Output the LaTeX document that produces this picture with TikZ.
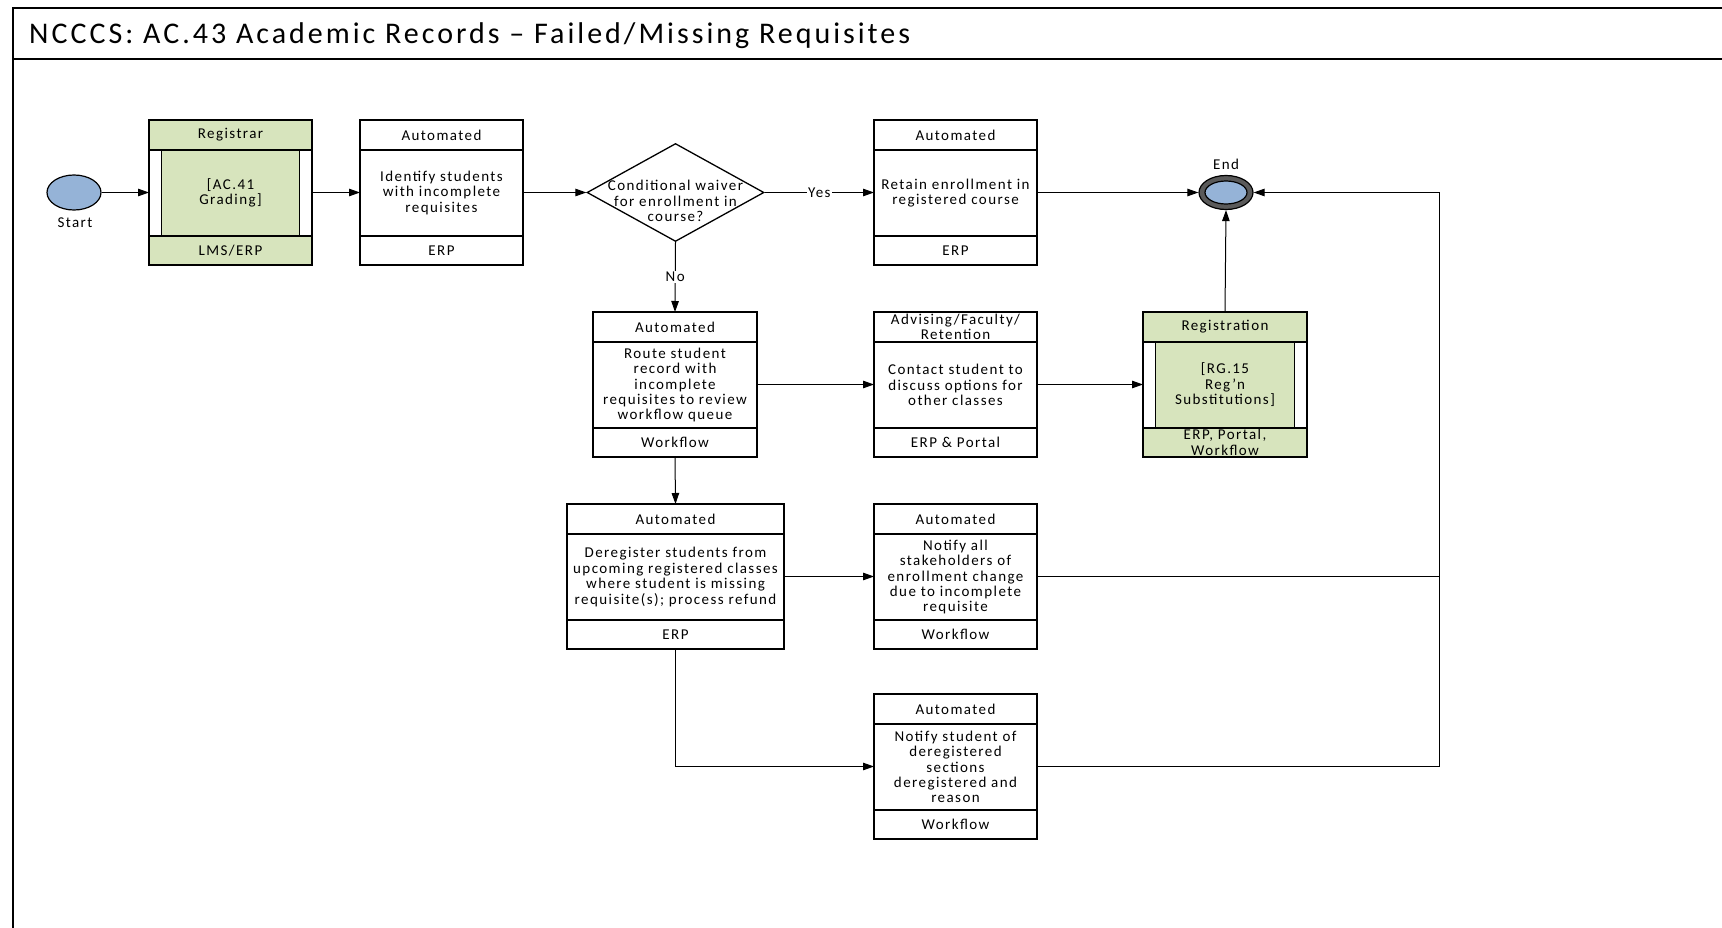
\documentclass[tikz,border=0pt]{standalone}
\usepackage{fontspec}
\setmainfont{Carlito}
\newfontfamily\bodyfont[LetterSpace=9.5]{Carlito}
\newfontfamily\titlefont[LetterSpace=10]{Carlito}
\usetikzlibrary{arrows.meta,shapes.geometric}

\definecolor{taskgreen}{HTML}{D7E4BD}
\definecolor{eventblue}{HTML}{95B3D7}
\definecolor{ringgray}{HTML}{5A5A5A}

\tikzset{
  boxline/.style={draw=black, line width=1.3pt},
  taskframe/.style={rectangle, draw=black, line width=1.3pt, inner sep=0pt, outer sep=0pt, anchor=north west},
  lbl/.style={font={\bodyfont\fontsize{15pt}{15.4pt}\selectfont}, align=center, inner sep=0pt, text=black},
  cond/.style={lbl, fill=white, inner sep=1.5pt},
  flow/.style={draw=black, line width=1pt, -{Triangle[length=11pt,width=7.5pt]}},
  plain/.style={draw=black, line width=1pt},
  frameline/.style={draw=black, line width=1.5pt}
}

% task box: name, left, top, width, header, body, footer, fill colour
\newcommand\taskbox[8]{%
  \node[taskframe, fill=#8, minimum width=#4pt, minimum height=145pt] (#1) at (#2,#3) {};
  \draw[boxline] ([yshift=-30pt]#1.north west) -- ([yshift=-30pt]#1.north east);
  \draw[boxline] ([yshift=29pt]#1.south west) -- ([yshift=29pt]#1.south east);
  \node[lbl] (#1-head) at ([yshift=-15pt]#1.north) {#5};
  \node[lbl] (#1-body) at ([yshift=-0.5pt]#1.center) {#6};
  \node[lbl] (#1-foot) at ([yshift=14.5pt]#1.south) {#7};
}

% side bars of a call-activity box
\newcommand\substrips[1]{%
  \fill[white] ([xshift=1pt,yshift=-30.7pt]#1.north west) rectangle ([xshift=12.5pt,yshift=29.7pt]#1.south west);
  \fill[white] ([xshift=-1pt,yshift=-30.7pt]#1.north east) rectangle ([xshift=-12.5pt,yshift=29.7pt]#1.south east);
  \draw[boxline] ([xshift=12.5pt,yshift=-30pt]#1.north west) -- ([xshift=12.5pt,yshift=29pt]#1.south west);
  \draw[boxline] ([xshift=-12.5pt,yshift=-30pt]#1.north east) -- ([xshift=-12.5pt,yshift=29pt]#1.south east);
}

\begin{document}
\begin{tikzpicture}[x=1pt,y=-1pt]
\useasboundingbox (0,0) rectangle (1722,928);

% page frame and title band
\draw[frameline] (13,928) -- (13,8) -- (1722,8);
\draw[frameline] (13,59) -- (1722,59);
\node[anchor=west, inner sep=0pt, font={\titlefont\fontsize{30pt}{32pt}\selectfont}] (title) at (29,36)
  {NCCCS: AC.43 Academic Records – Failed/Missing Requisites};

% start event
\node[ellipse, draw=black, line width=1.2pt, fill=eventblue, minimum width=54pt, minimum height=35pt, inner sep=0pt] (start) at (74,192.5) {};
\node[lbl] (start-lbl) at (75,223) {Start};

% first row
\taskbox{registrar}{149}{120}{163}{Registrar}{[AC.41\\Grading]}{LMS/ERP}{taskgreen}
\substrips{registrar}
\taskbox{identify}{360}{120}{163}{Automated}{Identify students\\with incomplete\\requisites}{ERP}{white}

\node[diamond, draw=black, line width=1.3pt, fill=white, minimum width=177pt, minimum height=98pt, inner sep=0pt] (waiver) at (675.5,192.5) {};
\node[lbl] (waiver-txt) at (675.5,201) {Conditional waiver\\for enrollment in\\course?};

\taskbox{retain}{874}{120}{163}{Automated}{Retain enrollment in\\registered course}{ERP}{white}

% end event
\node[ellipse, draw=black, line width=1.2pt, fill=ringgray, minimum width=54pt, minimum height=34pt, inner sep=0pt] (end) at (1226,192.5) {};
\node[ellipse, draw=black, line width=1.2pt, fill=eventblue, minimum width=42pt, minimum height=23pt, inner sep=0pt] (end-core) at (end.center) {};
\node[lbl] (end-lbl) at (1226,164) {End};

% second row
\taskbox{route}{593}{312}{164}{Automated}{Route student\\record with\\incomplete\\requisites to review\\workflow queue}{Workflow}{white}
\taskbox{contact}{874}{312}{163}{Advising/Faculty/\\Retention}{Contact student to\\discuss options for\\other classes}{ERP \& Portal}{white}
\taskbox{regsub}{1143}{312}{164}{Registration}{[RG.15\\Reg’n\\Substitutions]}{ERP, Portal,\\Workflow}{taskgreen}
\substrips{regsub}

% third and fourth rows
\taskbox{dereg}{567}{504}{217}{Automated}{Deregister students from\\upcoming registered classes\\where student is missing\\requisite(s); process refund}{ERP}{white}
\taskbox{notifyall}{874}{504}{163}{Automated}{Notify all\\stakeholders of\\enrollment change\\due to incomplete\\requisite}{Workflow}{white}
\taskbox{notifystu}{874}{694}{163}{Automated}{Notify student of\\deregistered\\sections\\deregistered and\\reason}{Workflow}{white}

% connectors
\coordinate (loop) at (1439,192.5);
\draw[flow] (start.east) -- (start.east -| registrar.west);
\draw[flow] (registrar.east) -- (identify.west);
\draw[flow] (identify.east) -- (waiver.west);
\draw[flow] (waiver.east) -- node[cond] (yes) {Yes} (retain.west);
\draw[flow] (retain.east) -- (end.west);
\draw[flow] (waiver.south) -- node[cond] (no) {No} (route.north);
\draw[flow] (route.east) -- (contact.west);
\draw[flow] (contact.east) -- (regsub.west);
\draw[flow] (regsub.north) -- (end.south);
\draw[flow] (route.south) -- (dereg.north);
\draw[flow] (dereg.east) -- (notifyall.west);
\draw[flow] (dereg.south) |- (notifystu.west);
\draw[flow] (notifyall.east) -| (loop) -- (end.east);
\draw[plain] (notifystu.east) -| (notifyall.east -| loop);
\end{tikzpicture}
\end{document}
